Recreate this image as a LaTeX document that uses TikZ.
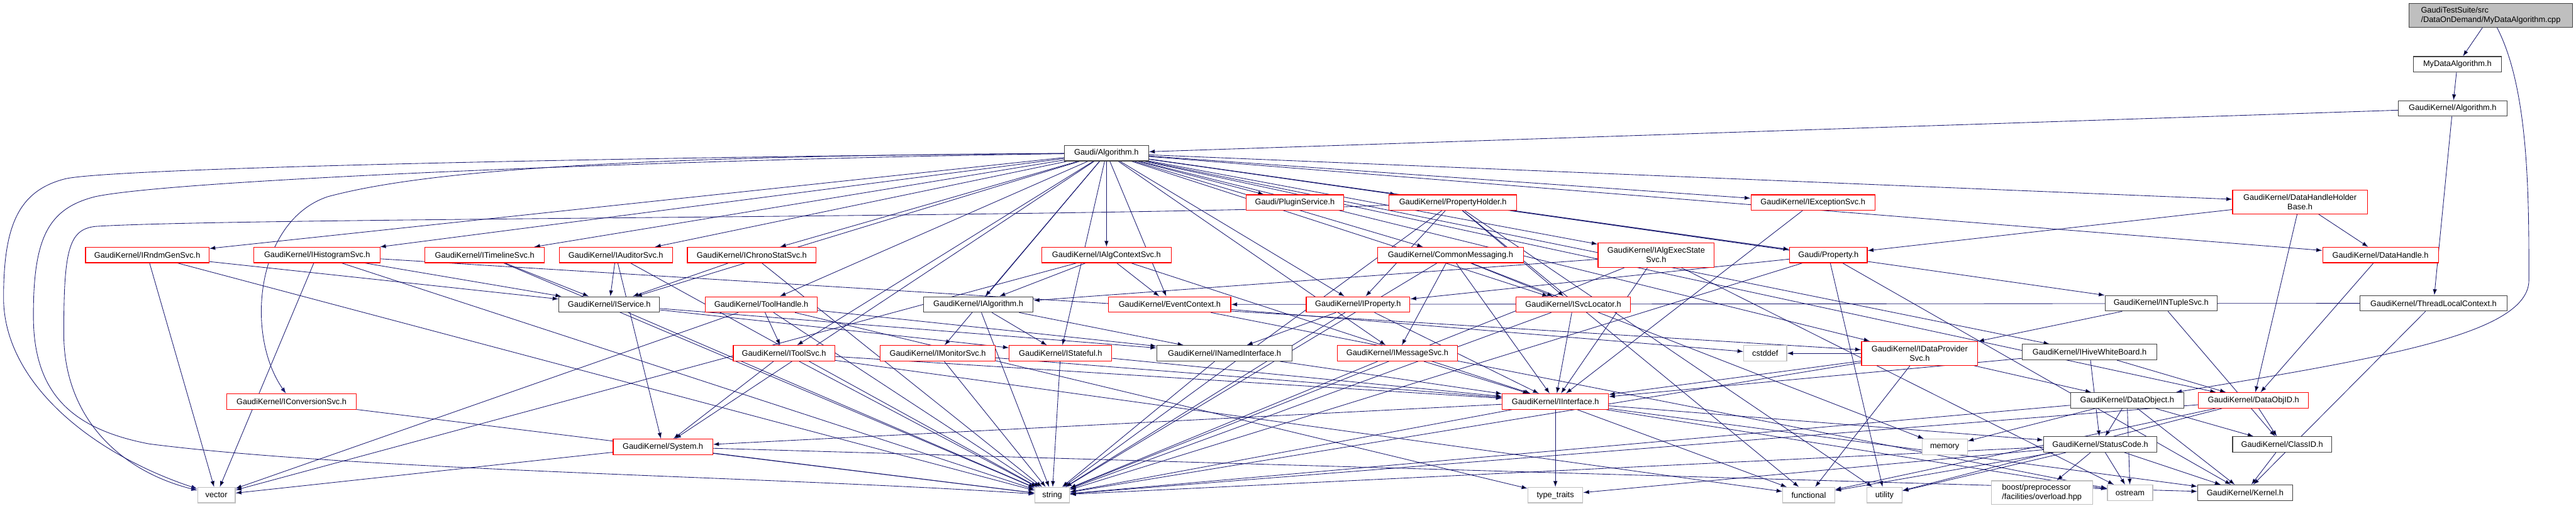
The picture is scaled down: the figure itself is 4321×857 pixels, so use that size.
\documentclass[tikz,border=0pt]{standalone}
\usepackage{fontspec}
\setmainfont{Liberation Sans}
\usepackage{xcolor}
\usepackage{tikz}
\usetikzlibrary{arrows.meta,backgrounds}

\definecolor{edgeblue}{HTML}{191970}
\definecolor{boxgray}{HTML}{BFBFBF}
\definecolor{boxred}{HTML}{FF0000}
\definecolor{boxdark}{HTML}{404040}

\begin{document}
\begin{tikzpicture}[x=1pt, y=-1pt,
  hdr/.style={draw, fill=white, line width=1.2pt, minimum height=26pt, inner sep=1pt,
    font=\fontsize{13.5}{16}\selectfont, align=center},
  hdrdoc/.style={hdr, draw=boxdark},
  hdrred/.style={hdr, draw=boxred},
  hdrsys/.style={hdr, draw=boxgray},
  dep/.style={draw=edgeblue, line width=0.9pt, -{Latex[length=10pt,width=7pt]}},
]
  \useasboundingbox (0,0) rectangle (4321,857);

  % top of the graph
  \node[hdrdoc, fill=boxgray, align=left, minimum width=275pt, minimum height=40pt] (top) at (4178,26)
    {GaudiTestSuite/src\\/DataOnDemand/MyDataAlgorithm.cpp};
  \node[hdrdoc, minimum width=147pt] (mydata) at (4122,108) {MyDataAlgorithm.h};
  \node[hdrdoc, minimum width=182pt] (gkalg)  at (4114,182) {GaudiKernel/Algorithm.h};
  \node[hdrdoc, minimum width=141pt] (galg)   at (1856,257) {Gaudi/Algorithm.h};

  \node[hdrred, minimum width=164pt] (plugin)     at (2172,340) {Gaudi/PluginService.h};
  \node[hdrred, minimum width=214pt] (propholder) at (2437,340) {GaudiKernel/PropertyHolder.h};
  \node[hdrred, minimum width=208pt] (iexcept)    at (3041,340) {GaudiKernel/IExceptionSvc.h};
  \node[hdrred, minimum width=226pt, minimum height=40pt] (dhhb) at (3858,339)
    {GaudiKernel/DataHandleHolder\\Base.h};

  \node[hdrred, minimum width=207pt] (irndm)     at (247,428)  {GaudiKernel/IRndmGenSvc.h};
  \node[hdrred, minimum width=212pt] (ihisto)    at (532,428)  {GaudiKernel/IHistogramSvc.h};
  \node[hdrred, minimum width=200pt] (itimeline) at (813,428)  {GaudiKernel/ITimelineSvc.h};
  \node[hdrred, minimum width=190pt] (iauditor)  at (1033,428) {GaudiKernel/IAuditorSvc.h};
  \node[hdrred, minimum width=216pt] (ichrono)   at (1261,428) {GaudiKernel/IChronoStatSvc.h};
  \node[hdrred, minimum width=217pt] (ialgctx)   at (1856,428) {GaudiKernel/IAlgContextSvc.h};
  \node[hdrred, minimum width=245pt] (commsg)    at (2433,428) {GaudiKernel/CommonMessaging.h};
  \node[hdrred, minimum width=195pt, minimum height=41pt] (iexecstate) at (2778,428)
    {GaudiKernel/IAlgExecState\\Svc.h};
  \node[hdrred, minimum width=130pt] (gprop)     at (3067,428) {Gaudi/Property.h};
  \node[hdrred, minimum width=194pt] (dhandle)   at (3993,428) {GaudiKernel/DataHandle.h};

  \node[hdrdoc, minimum width=169pt] (iservice)   at (1022,511) {GaudiKernel/IService.h};
  \node[hdrred, minimum width=188pt] (toolhandle) at (1277,511) {GaudiKernel/ToolHandle.h};
  \node[hdrdoc, minimum width=184pt] (ialgorithm) at (1641,511) {GaudiKernel/IAlgorithm.h};
  \node[hdrred, minimum width=205pt] (evtctx)     at (1962,511) {GaudiKernel/EventContext.h};
  \node[hdrred, minimum width=174pt] (iproperty)  at (2278,511) {GaudiKernel/IProperty.h};
  \node[hdrred, minimum width=192pt] (isvcloc)    at (2639,511) {GaudiKernel/ISvcLocator.h};
  \node[hdrdoc, minimum width=188pt] (intuple)    at (3625,509) {GaudiKernel/INTupleSvc.h};
  \node[hdrdoc, minimum width=247pt] (tlc)        at (4082,509) {GaudiKernel/ThreadLocalContext.h};

  \node[hdrred, minimum width=170pt] (itoolsvc)  at (1315,593) {GaudiKernel/IToolSvc.h};
  \node[hdrred, minimum width=193pt] (imonitor)  at (1573,593) {GaudiKernel/IMonitorSvc.h};
  \node[hdrred, minimum width=172pt] (istateful) at (1779,593) {GaudiKernel/IStateful.h};
  \node[hdrdoc, minimum width=227pt] (inamed)    at (2054,593) {GaudiKernel/INamedInterface.h};
  \node[hdrred, minimum width=202pt] (imsgsvc)   at (2344,593) {GaudiKernel/IMessageSvc.h};
  \node[hdrsys, minimum width=72pt]  (cstddef)   at (2961,593) {cstddef};
  \node[hdrred, minimum width=195pt, minimum height=40pt] (idataprov) at (3220,593)
    {GaudiKernel/IDataProvider\\Svc.h};
  \node[hdrdoc, minimum width=226pt] (ihive)     at (3505,591) {GaudiKernel/IHiveWhiteBoard.h};

  \node[hdrred, minimum width=218pt] (iconv)      at (489,674)  {GaudiKernel/IConversionSvc.h};
  \node[hdrred, minimum width=178pt] (iinterface) at (2609,674) {GaudiKernel/IInterface.h};
  \node[hdrdoc, minimum width=190pt] (dataobject) at (3568,672) {GaudiKernel/DataObject.h};
  \node[hdrred, minimum width=185pt] (dataobjid)  at (3780,672) {GaudiKernel/DataObjID.h};

  \node[hdrred, minimum width=167pt] (system)     at (1112,750) {GaudiKernel/System.h};
  \node[hdrsys, minimum width=76pt]  (memory)     at (3262,750) {memory};
  \node[hdrdoc, minimum width=190pt] (statuscode) at (3523,746) {GaudiKernel/StatusCode.h};
  \node[hdrdoc, minimum width=166pt] (classid)    at (3828,746) {GaudiKernel/ClassID.h};

  \node[hdrsys, minimum width=63pt]  (vector)     at (363,831)  {vector};
  \node[hdrsys, minimum width=58pt]  (string)     at (1765,831) {string};
  \node[hdrsys, minimum width=92pt]  (typetraits) at (2609,831) {type\_traits};
  \node[hdrsys, minimum width=87pt]  (functional) at (3034,831) {functional};
  \node[hdrsys, minimum width=59pt]  (utility)    at (3161,831) {utility};
  \node[hdrsys, align=left, minimum width=170pt, minimum height=40pt] (boost) at (3425,827)
    {boost/preprocessor\\/facilities/overload.hpp};
  \node[hdrsys, minimum width=76pt]  (ostream)    at (3573,827) {ostream};
  \node[hdrdoc, minimum width=159pt] (kernel)     at (3766,827) {GaudiKernel/Kernel.h};

  % include edges
  \begin{scope}[on background layer]
    \path[dep] (top) edge (mydata);
    \draw[dep] (top) .. controls (4242,150) and (4242,330) .. (4242,470)
      .. controls (4242,560) and (4000,600) .. (dataobject);
    \path[dep] (mydata) edge (gkalg);
    \path[dep] (gkalg) edge (galg) edge (tlc);

    \path[dep] (galg) edge (plugin) edge (propholder) edge (iexcept) edge (dhhb) edge (dhandle)
      edge (irndm) edge (ihisto) edge (itimeline) edge (iauditor) edge (ichrono) edge (ialgctx)
      edge (commsg) edge (iexecstate) edge (gprop) edge (iservice) edge (toolhandle)
      edge (ialgorithm) edge (evtctx) edge (iproperty) edge (isvcloc) edge (intuple)
      edge (itoolsvc) edge (imonitor) edge (istateful) edge (imsgsvc) edge (idataprov)
      edge (ihive) edge (dataobjid) edge (system);
    \draw[dep] (galg) .. controls (1000,262) and (700,290) .. (550,330)
      .. controls (430,370) and (410,560) .. (iconv);
    \draw[dep] (galg) .. controls (1200,262) and (200,280) .. (110,300)
      .. controls (30,320) and (6,380) .. (6,500) .. controls (6,640) and (150,760) .. (vector);
    \draw[dep] (galg) .. controls (1200,266) and (300,300) .. (160,330)
      .. controls (80,350) and (56,400) .. (56,530) .. controls (56,660) and (120,720) .. (250,745)
      .. controls (600,790) and (1300,800) .. (string);
    \draw[dep] (propholder) .. controls (1800,366) and (400,365) .. (160,380)
      .. controls (115,385) and (107,420) .. (107,560) .. controls (107,700) and (200,790) .. (vector);

    \path[dep] (irndm) edge (iservice) edge (vector) edge (string);
    \path[dep] (ihisto) edge (iservice) edge (idataprov) edge (vector) edge (string);
    \path[dep] (itimeline) edge (iservice) edge (string);
    \path[dep] (iauditor) edge (iservice) edge (string) edge (system);
    \path[dep] (ichrono) edge (iservice) edge (string);
    \path[dep] (ialgctx) edge (ialgorithm) edge (evtctx) edge (iinterface) edge (vector);
    \path[dep] (commsg) edge (imsgsvc) edge (isvcloc) edge (iinterface) edge (string) edge (memory);
    \path[dep] (iexecstate) edge (ialgorithm) edge (iinterface) edge (string) edge (ostream);
    \path[dep] (gprop) edge (iproperty) edge (string) edge (kernel) edge (utility);
    \path[dep] (dhhb) edge (gprop) edge (dhandle) edge (dataobjid);
    \path[dep] (dhandle) edge (dataobjid);
    \path[dep] (iexcept) edge (iinterface);
    \path[dep] (propholder) edge (gprop) edge (iproperty) edge (isvcloc) edge (string)
      edge (utility) edge (functional);

    \path[dep] (iservice) edge (inamed) edge (istateful) edge (string);
    \path[dep] (toolhandle) edge (itoolsvc) edge (inamed) edge (vector) edge (string) edge (typetraits);
    \path[dep] (ialgorithm) edge (inamed) edge (istateful) edge (string);
    \path[dep] (evtctx) edge (cstddef) edge (ostream);
    \path[dep] (iproperty) edge (iinterface) edge (inamed) edge (string);
    \path[dep] (isvcloc) edge (iinterface) edge (string);
    \path[dep] (intuple) edge (idataprov) edge (classid);
    \path[dep] (tlc) edge (evtctx) edge (kernel);

    \path[dep] (itoolsvc) edge (system) edge (string) edge (iinterface) edge (functional);
    \path[dep] (imonitor) edge (iinterface) edge (string);
    \path[dep] (istateful) edge (iinterface) edge (string);
    \path[dep] (inamed) edge (iinterface) edge (string);
    \path[dep] (imsgsvc) edge (iinterface) edge (string);
    \path[dep] (idataprov) edge (iinterface) edge (dataobject) edge (string) edge (functional)
      edge (cstddef);
    \path[dep] (ihive) edge (dataobjid) edge (iinterface) edge (statuscode);
    \path[dep] (iconv) edge (string);

    \path[dep] (iinterface) edge (system) edge (typetraits) edge (functional) edge (statuscode)
      edge (kernel) edge (ostream) edge (string);
    \path[dep] (dataobject) edge (statuscode) edge (classid) edge (ostream) edge (kernel)
      edge (memory) edge (string);
    \path[dep] (dataobjid) edge (classid) edge (string) edge (functional) edge (utility);
    \path[dep] (statuscode) edge (boost) edge (ostream) edge (kernel) edge (typetraits)
      edge (functional) edge (utility) edge (string);
    \path[dep] (classid) edge (kernel);
    \path[dep] (system) edge (kernel) edge (string) edge (vector);
  \end{scope}
\end{tikzpicture}
\end{document}
